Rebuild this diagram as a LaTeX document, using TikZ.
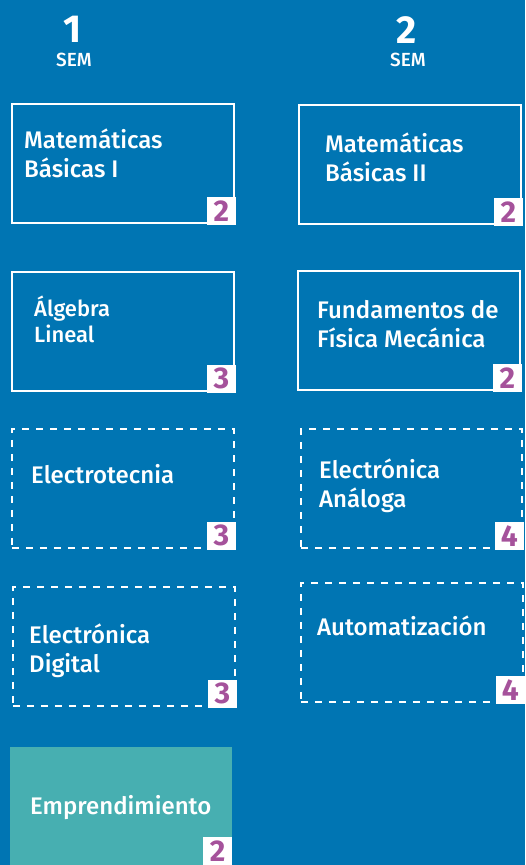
\documentclass[tikz,border=0pt]{standalone}
\usepackage{fontspec}
\setmainfont{Fira Sans}[UprightFont=* Medium, BoldFont=* Bold]
\definecolor{bg}{HTML}{0075B3}
\definecolor{teal}{HTML}{47AFB1}
\definecolor{mag}{HTML}{A5529B}
\tikzset{
  box/.style={draw=white, line width=1.5pt, minimum width=222pt, minimum height=119pt, anchor=north west, inner sep=0pt},
  dbox/.style={box, dash pattern=on 7pt off 7pt},
  fbox/.style={fill=teal, minimum width=222pt, minimum height=118pt, anchor=north west, inner sep=0pt},
  lbl/.style={text=white, anchor=base west, inner sep=0pt, font=\fontsize{24}{29}\selectfont},
  badge/.style={fill=white, minimum width=29pt, minimum height=28pt, inner sep=0pt, anchor=south east, text=mag, font=\fontsize{30}{30}\selectfont\bfseries},
  semnum/.style={text=white, anchor=base, inner sep=0pt, font=\fontsize{39}{39}\selectfont\bfseries},
  semlbl/.style={text=white, anchor=base, inner sep=0pt, font=\fontsize{19}{19}\selectfont}
}
\begin{document}
\begin{tikzpicture}[x=1pt,y=-1pt]
\fill[bg] (0,0) rectangle (525,865);
\useasboundingbox (0,0) rectangle (525,865);
% headers
\node[semnum] (n1) at (73,42) {1};
\node[semlbl] (s1) at (74,66) {SEM};
\node[semnum] (n2) at (407,43) {2};
\node[semlbl] (s2) at (408,66) {SEM};
% row 1
\node[box] (b1) at (11,103) {};
\node[lbl] (t1a) at (24,148) {Matemáticas};
\node[lbl] (t1b) at (24,177) {Básicas I};
\node[badge] (g1) at ([shift={(1.5,1.5)}]b1.south east) {2};
\node[box] (b2) at (298,104) {};
\node[lbl] (t2a) at (325,152) {Matemáticas};
\node[lbl] (t2b) at (325,181) {Básicas II};
\node[badge] (g2) at ([shift={(1.5,1.5)}]b2.south east) {2};
% row 2
\node[box] (b3) at (11,271) {};
\node[lbl, font=\fontsize{22}{26}\selectfont] (t3a) at (34,316) {Álgebra};
\node[lbl, font=\fontsize{22}{26}\selectfont] (t3b) at (34,342) {Lineal};
\node[badge] (g3) at ([shift={(1.5,1.5)}]b3.south east) {3};
\node[box] (b4) at (297,270) {};
\node[lbl] (t4a) at (317,318) {Fundamentos de};
\node[lbl] (t4b) at (317,347) {Física Mecánica};
\node[badge] (g4) at ([shift={(1.5,1.5)}]b4.south east) {2};
% row 3
\node[dbox] (b5) at (11,428) {};
\node[lbl] (t5a) at (31,483) {Electrotecnia};
\node[badge] (g5) at ([shift={(1.5,1.5)}]b5.south east) {3};
\node[dbox, minimum width=221pt] (b6) at (300,428) {};
\node[lbl] (t6a) at (319,478) {Electrónica};
\node[lbl] (t6b) at (319,507) {Análoga};
\node[badge] (g6) at ([shift={(1.5,1.5)}]b6.south east) {4};
% row 4
\node[dbox] (b7) at (12,586) {};
\node[lbl] (t7a) at (29,643) {Electrónica};
\node[lbl] (t7b) at (29,672) {Digital};
\node[badge] (g7) at ([shift={(1.5,1.5)}]b7.south east) {3};
\node[dbox] (b8) at (300,582) {};
\node[lbl] (t8a) at (317,635) {Automatización};
\node[badge] (g8) at ([shift={(1.5,1.5)}]b8.south east) {4};
% row 5
\node[fbox] (b9) at (10,747) {};
\node[lbl] (t9a) at (30,814) {Emprendimiento};
\node[badge] (g9) at (b9.south east) {2};
\end{tikzpicture}
\end{document}
